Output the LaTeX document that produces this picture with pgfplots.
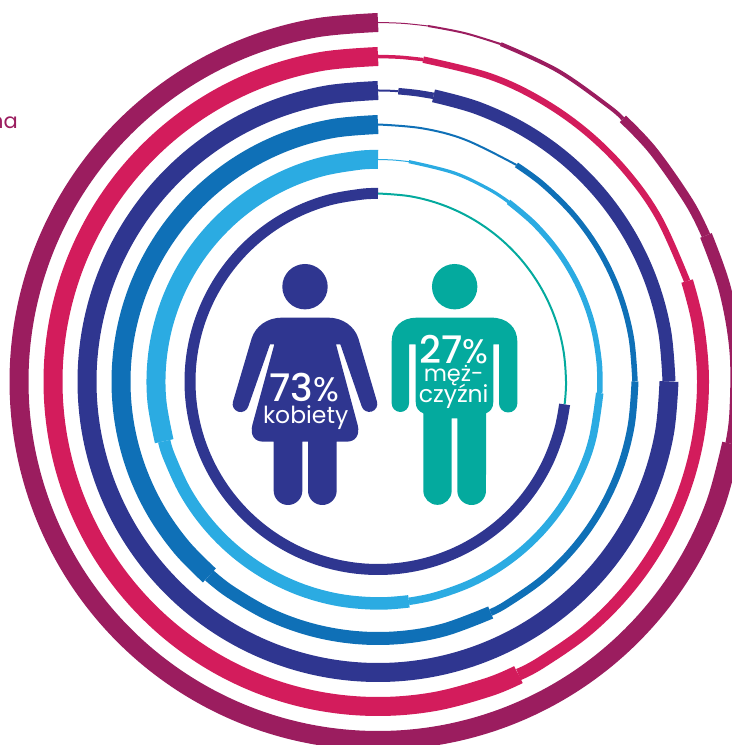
\documentclass[border=0pt]{standalone}
\usepackage{fontspec}
\usepackage{pgfplots}
\pgfplotsset{compat=1.18}
\setmainfont{Poppins}
\newfontfamily\medfont{Poppins Medium}
\definecolor{plum}{HTML}{9B1D5F}
\definecolor{rosered}{HTML}{D31C5C}
\definecolor{navy}{HTML}{2F3690}
\definecolor{midblue}{HTML}{0F70B7}
\definecolor{skyblue}{HTML}{2BABE2}
\definecolor{teal2}{HTML}{04AA9E}
\pgfplotsset{seg/.style n args={2}{color=#1, line width=#2bp, smooth, tension=0.6, data cs=polar}}
\begin{document}
\begin{tikzpicture}
\useasboundingbox (0,0) rectangle (732bp,745bp);
\begin{axis}[at={(0,0)}, anchor=south west, width=732bp, height=745bp, scale only axis, hide axis,
  xmin=-378, xmax=354, ymin=-363.5, ymax=381.5]

% outer ring
\addplot[seg={plum}{1}] coordinates {(90,359)(86,359)(82,359)};
\addplot[seg={plum}{2}] coordinates {(82,359)(76,359)(70,359)};
\addplot[seg={plum}{4}] coordinates {(70,359)(60,359)(50,359)(47,359)};
\addplot[seg={plum}{9}] coordinates {(47,359)(40,359)(30,359)(24,359)};
\addplot[seg={plum}{12.5}] coordinates {(24,359)(15,359)(5,359)(-5,359)(-10,359)};
\addplot[seg={plum}{19}] coordinates {(-10,359)(-20,359)(-30,359)(-40,359)(-50,359)(-60,359)(-70,359)(-80,359)(-90,359)(-100,359)(-110,359)(-120,359)(-130,359)(-140,359)(-150,359)(-160,359)(-170,359)(-180,359)(-190,359)(-200,359)(-210,359)(-220,359)(-230,359)(-240,359)(-250,359)(-260,359)(-270,359)};

% second ring
\addplot[seg={rosered}{3.5}] coordinates {(90,325)(86,325)(82,325)};
\addplot[seg={rosered}{6.5}] coordinates {(82,325)(70,325)(60,325)(50,325)(40,325)(30,325)(18,325)};
\addplot[seg={rosered}{12}] coordinates {(18,325)(10,325)(0,325)(-10,325)(-20,325)(-30,325)(-40,325)(-50,325)(-60,325)(-64.4,325)};
\addplot[seg={rosered}{19}] coordinates {(-64.4,325)(-70,325)(-80,325)(-90,325)(-100,325)(-110,325)(-120,325)(-130,325)(-140,325)(-150,325)(-160,325)(-170,325)(-180,325)(-190,325)(-200,325)(-210,325)(-220,325)(-230,325)(-240,325)(-250,325)(-260,325)(-270,325)};

% third ring
\addplot[seg={navy}{2}] coordinates {(90,291)(88,291)(86,291)};
\addplot[seg={navy}{6.5}] coordinates {(86,291)(82.5,291)(79,291)};
\addplot[seg={navy}{13}] coordinates {(79,291)(70,291)(60,291)(50,291)(40,291)(30,291)(20,291)(10,291)(0,291)};
\addplot[seg={navy}{19}] coordinates {(0,291)(-10,291)(-20,291)(-30,291)(-40,291)(-50,291)(-60,291)(-70,291)(-80,291)(-90,291)(-100,291)(-110,291)(-120,291)(-130,291)(-140,291)(-150,291)(-160,291)(-170,291)(-180,291)(-190,291)(-200,291)(-210,291)(-220,291)(-230,291)(-240,291)(-250,291)(-260,291)(-270,291)};

% fourth ring
\addplot[seg={midblue}{2}] coordinates {(90,257)(80,257)(70,257)(57.4,257)};
\addplot[seg={midblue}{5.5}] coordinates {(57.4,257)(50,257)(40,257)(30,257)(20,257)(10,257)(0,257)};
\addplot[seg={midblue}{7}] coordinates {(0,257)(-10,257)(-20,257)(-30,257)(-40,257)(-50,257)(-60,257)(-64,257)};
\addplot[seg={midblue}{13}] coordinates {(-64,257)(-75,257)(-85,257)(-95,257)(-105,257)(-115,257)(-125,257)(-131,257)};
\addplot[seg={midblue}{19}] coordinates {(-131,257)(-140,257)(-150,257)(-160,257)(-170,257)(-180,257)(-190,257)(-200,257)(-210,257)(-220,257)(-230,257)(-240,257)(-250,257)(-260,257)(-270,257)};

% fifth ring
\addplot[seg={skyblue}{1}] coordinates {(90,222)(86,222)(82,222)};
\addplot[seg={skyblue}{3.2}] coordinates {(82,222)(70,222)(60,222)(54,222)};
\addplot[seg={skyblue}{5.5}] coordinates {(54,222)(45,222)(35,222)(25,222)(15,222)(5,222)(-3,222)};
\addplot[seg={skyblue}{7.5}] coordinates {(-3,222)(-15,222)(-25,222)(-35,222)(-45,222)(-55,222)(-65,222)(-75,222)(-82,222)};
\addplot[seg={skyblue}{12.5}] coordinates {(-82,222)(-90,222)(-100,222)(-110,222)(-120,222)(-130,222)(-140,222)(-150,222)(-160,222)(-164.4,222)};
\addplot[seg={skyblue}{19}] coordinates {(-164.4,222)(-175,222)(-185,222)(-195,222)(-205,222)(-215,222)(-225,222)(-235,222)(-245,222)(-255,222)(-265,222)(-270,222)};

% inner ring: shares of men and women
\addplot[seg={teal2}{2}] coordinates {(90,188)(80,188)(70,188)(60,188)(50,188)(40,188)(30,188)(20,188)(10,188)(0,188)(-7,188)};
\addplot[seg={navy}{11}] coordinates {(-7,188)(-15,188)(-25,188)(-35,188)(-45,188)(-55,188)(-65,188)(-75,188)(-85,188)(-95,188)(-105,188)(-115,188)(-125,188)(-135,188)(-145,188)(-155,188)(-165,188)(-175,188)(-185,188)(-195,188)(-205,188)(-215,188)(-225,188)(-235,188)(-245,188)(-255,188)(-265,188)(-270,188)};

% woman pictogram
\fill[navy] (axis cs:-73,94.8) circle[radius=22.7];
\fill[navy] (axis cs:-96.33,63.83) .. controls (axis cs:-110.33,63.83) and (axis cs:-122.33,55.57) .. (axis cs:-126.33,43.17)
  -- (axis cs:-145,-20.17) arc[start angle=162.5, end angle=342.5, radius=8bp]
  -- (axis cs:-108,37.17) -- (axis cs:-103.67,37.17) -- (axis cs:-125.67,-43.5)
  .. controls (axis cs:-128.07,-53.5) and (axis cs:-123.67,-60.17) .. (axis cs:-114.67,-60.17)
  -- (axis cs:-104.33,-60.17) -- (axis cs:-104.33,-109.17) arc[start angle=180, end angle=360, radius=14.33bp]
  -- (axis cs:-75.67,-60.17) -- (axis cs:-70,-60.17) -- (axis cs:-70,-109.17) arc[start angle=180, end angle=360, radius=14.33bp]
  -- (axis cs:-41.33,-60.17) -- (axis cs:-31.33,-60.17)
  .. controls (axis cs:-22.33,-60.17) and (axis cs:-17.93,-53.5) .. (axis cs:-20.33,-43.5)
  -- (axis cs:-42,37.17) -- (axis cs:-37.67,37.17) -- (axis cs:-16.33,-24.83)
  arc[start angle=197.5, end angle=377.5, radius=8bp]
  -- (axis cs:-19.67,43.17) .. controls (axis cs:-23.67,55.57) and (axis cs:-35.67,63.83) .. (axis cs:-49.67,63.83) -- cycle;

% man pictogram
\fill[teal2] (axis cs:76.67,94.8) circle[radius=22.7];
\fill[teal2] (axis cs:38.67,63.83) .. controls (axis cs:23.67,63.83) and (axis cs:13.67,54.23) .. (axis cs:13.67,39.83)
  -- (axis cs:13.67,-21.83) arc[start angle=180, end angle=360, radius=8.67bp]
  -- (axis cs:31,37.17) -- (axis cs:37.67,37.17) -- (axis cs:37.67,-20.17)
  .. controls (axis cs:37.67,-27) and (axis cs:41,-30) .. (axis cs:45.33,-31.83)
  -- (axis cs:45.33,-109.17) arc[start angle=180, end angle=360, radius=14.17bp]
  -- (axis cs:73.67,-36.83) -- (axis cs:79.33,-36.83) -- (axis cs:79.33,-109.17) arc[start angle=180, end angle=360, radius=14.33bp]
  -- (axis cs:108,-31.83) .. controls (axis cs:112,-30) and (axis cs:115.33,-27) .. (axis cs:115.33,-20.17)
  -- (axis cs:115.33,37.17) -- (axis cs:121,37.17) -- (axis cs:121,-21.83) arc[start angle=180, end angle=360, radius=9.17bp]
  -- (axis cs:139.33,39.83) .. controls (axis cs:139.33,54.23) and (axis cs:129,63.83) .. (axis cs:113.67,63.83) -- cycle;

% labels
\node[anchor=base, text=white, inner sep=0pt] at (axis cs:-74,-20.2) {\fontsize{38bp}{38bp}\selectfont{\medfont 73}\fontsize{34bp}{38bp}\selectfont\%};
\node[anchor=base, text=white, inner sep=0pt] at (axis cs:-72.3,-41.8) {\fontsize{23.5bp}{26bp}\selectfont kobiety};
\node[anchor=base, text=white, inner sep=0pt] at (axis cs:75.67,18.2) {\fontsize{38bp}{38bp}\selectfont{\medfont 27}\fontsize{34bp}{38bp}\selectfont\%};
\node[anchor=base, text=white, inner sep=0pt] at (axis cs:75.67,-0.2) {\fontsize{22.5bp}{26bp}\selectfont męż-};
\node[anchor=base, text=white, inner sep=0pt] at (axis cs:75.67,-21.2) {\fontsize{23.5bp}{26bp}\selectfont czyźni};
\node[anchor=base east, text=plum, inner sep=0pt] at (axis cs:-360,252.5) {\fontsize{21bp}{24bp}\selectfont na};
\end{axis}
\end{tikzpicture}
\end{document}
